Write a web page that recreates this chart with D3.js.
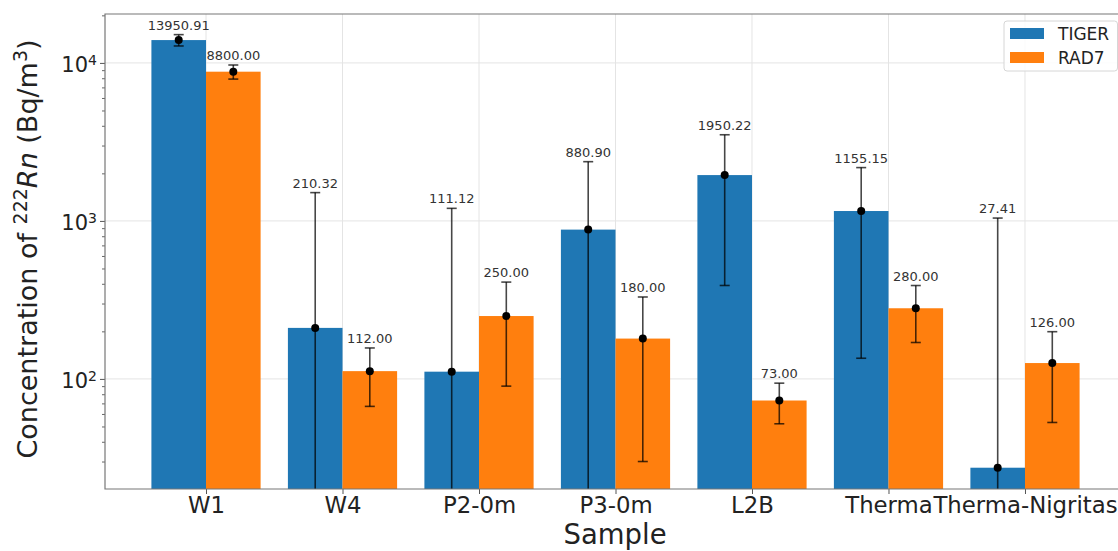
<!DOCTYPE html>
<meta charset="utf-8">
<title>Radon concentration by sample</title>
<script src="https://d3js.org/d3.v7.min.js"></script>
<style>
  body { margin: 0; background: #fff; }
  text { font-family: "DejaVu Sans", sans-serif; }
</style>
<body>
<div id="chart"></div>
<script>
// values
const samples = ["W1", "W4", "P2-0m", "P3-0m", "L2B", "Therma", "Therma-Nigritas"];
const series = ["TIGER", "RAD7"];
const tiger = [13950.91, 210.32, 111.12, 880.90, 1950.22, 1155.15, 27.41];
const tigerErr = [1150, 1300, 1090, 1490, 1560, 1020, 1015];
const rad7 = [8800, 112, 250, 180, 73, 280, 126];
const rad7Err = [900, 45, 160, 150, 21, 110, 73];
const majorTicks = [100, 1000, 10000];
const colors = ["#1f77b4", "#ff7f0e"];

const width = 1118, height = 551;
const pLeft = 105, pRight = 1126, pTop = 14, pBottom = 489;

const svg = d3.select("#chart").append("svg")
  .attr("width", width)
  .attr("height", height)
  .attr("viewBox", [0, 0, width, height]);

const x = d3.scalePoint().domain(samples).range([pLeft, pRight]).padding(0.74);
const barW = x.step() * 0.4;
const y = d3.scaleLog().domain([20.1, 20400]).range([pBottom, pTop]);

svg.append("defs").append("clipPath").attr("id", "plot")
  .append("rect").attr("x", pLeft).attr("y", pTop)
  .attr("width", pRight - pLeft).attr("height", pBottom - pTop);

// grid
const grid = svg.append("g").attr("stroke", "#e4e4e4").attr("stroke-width", 1);
grid.selectAll("line.v").data(samples).join("line")
  .attr("x1", d => x(d)).attr("x2", d => x(d))
  .attr("y1", pTop).attr("y2", pBottom);
grid.selectAll("line.h").data(majorTicks).join("line")
  .attr("x1", pLeft).attr("x2", pRight)
  .attr("y1", d => y(d)).attr("y2", d => y(d));

const rows = samples.map((s, i) => [
  {s, k: 0, v: tiger[i], e: tigerErr[i]},
  {s, k: 1, v: rad7[i], e: rad7Err[i]}
]).flat();

const plot = svg.append("g").attr("clip-path", "url(#plot)");

plot.selectAll("rect.bar").data(rows).join("rect")
  .attr("x", d => x(d.s) + (d.k === 0 ? -barW : 0))
  .attr("width", barW)
  .attr("y", d => y(d.v))
  .attr("height", d => pBottom - y(d.v) + 2)
  .attr("fill", d => colors[d.k]);

const cx = d => x(d.s) + (d.k === 0 ? -barW / 2 : barW / 2);
const lo = d => d.v - d.e > 0 ? y(d.v - d.e) : pBottom + 5;

const eb = plot.append("g").attr("stroke", "#000").attr("stroke-opacity", 0.72).attr("stroke-width", 1.6);
eb.selectAll("line.stem").data(rows).join("line")
  .attr("x1", cx).attr("x2", cx)
  .attr("y1", d => y(d.v + d.e)).attr("y2", lo);
eb.selectAll("line.capt").data(rows).join("line")
  .attr("x1", d => cx(d) - 5).attr("x2", d => cx(d) + 5)
  .attr("y1", d => y(d.v + d.e)).attr("y2", d => y(d.v + d.e));
eb.selectAll("line.capb").data(rows.filter(d => d.v - d.e > 0)).join("line")
  .attr("x1", d => cx(d) - 5).attr("x2", d => cx(d) + 5)
  .attr("y1", lo).attr("y2", lo);
plot.selectAll("circle").data(rows).join("circle")
  .attr("cx", cx).attr("cy", d => y(d.v)).attr("r", 4).attr("fill", "#000");

// value labels
svg.append("g").selectAll("text").data(rows).join("text")
  .attr("x", cx)
  .attr("y", d => y(d.v + d.e) - 5)
  .attr("text-anchor", "middle")
  .attr("font-size", 13)
  .attr("fill", "#333")
  .text(d => d.v.toFixed(2));

// axes
const xAxis = svg.append("g").attr("transform", `translate(0,${pBottom})`)
  .call(d3.axisBottom(x).tickSize(5).tickPadding(3));
xAxis.select(".domain").remove();
xAxis.selectAll(".tick line").attr("stroke", "#555");
xAxis.selectAll(".tick text").attr("font-size", 22.8).attr("fill", "#222")
  .attr("font-family", "DejaVu Sans");

const minorTicks = [];
[10, 100, 1000, 10000].forEach(b => d3.range(2, 10).forEach(m => {
  const v = b * m;
  if (v > y.domain()[0] && v < y.domain()[1]) minorTicks.push(v);
}));
const yMinor = svg.append("g").attr("transform", `translate(${pLeft},0)`)
  .call(d3.axisLeft(y).tickValues(minorTicks).tickSize(3).tickFormat(""));
yMinor.select(".domain").remove();
yMinor.selectAll(".tick line").attr("stroke", "#666");

const yAxis = svg.append("g").attr("transform", `translate(${pLeft},0)`)
  .call(d3.axisLeft(y).tickValues(majorTicks).tickSize(5).tickFormat(""));
yAxis.select(".domain").remove();
yAxis.selectAll(".tick line").attr("stroke", "#555");
yAxis.selectAll(".tick").each(function(d) {
  const t = d3.select(this).append("text")
    .attr("x", -8).attr("y", 8.5)
    .attr("text-anchor", "end")
    .attr("fill", "#222")
    .attr("font-size", 21);
  t.append("tspan").text("10");
  t.append("tspan").attr("font-size", 14).attr("dy", -7).text(Math.round(Math.log10(d)));
});

// frame
const frame = svg.append("g").attr("stroke", "#777").attr("stroke-width", 1.2).attr("fill", "none");
frame.append("path").attr("d", `M${pRight},${pTop}H${pLeft}V${pBottom}H${pRight}`);

// axis titles
svg.append("text")
  .attr("x", (pLeft + pRight) / 2 - 0.5).attr("y", 544)
  .attr("text-anchor", "middle").attr("font-size", 27.5).attr("fill", "#222")
  .text("Sample");

const yl = svg.append("text")
  .attr("transform", "translate(37,249) rotate(-90)")
  .attr("text-anchor", "middle").attr("font-size", 27).attr("fill", "#222");
yl.append("tspan").text("Concentration of ");
yl.append("tspan").attr("font-size", 19).attr("dy", -10).text("222");
yl.append("tspan").attr("font-style", "italic").attr("dy", 10).text("Rn");
yl.append("tspan").text(" (Bq/m");
yl.append("tspan").attr("font-size", 19).attr("dy", -10).text("3");
yl.append("tspan").attr("dy", 10).text(")");

// legend
const lg = svg.append("g");
lg.append("rect").attr("x", 1004).attr("y", 21).attr("width", 113.5).attr("height", 50)
  .attr("rx", 3).attr("fill", "#fff").attr("fill-opacity", 0.85)
  .attr("stroke", "#d6d6d6");
series.forEach((s, i) => {
  lg.append("rect").attr("x", 1010).attr("y", 28 + i * 24).attr("width", 34).attr("height", 11)
    .attr("fill", colors[i]);
  lg.append("text").attr("x", 1058).attr("y", 39.5 + i * 24)
    .attr("font-size", 17).attr("fill", "#222").text(s);
});
</script>
</body>
